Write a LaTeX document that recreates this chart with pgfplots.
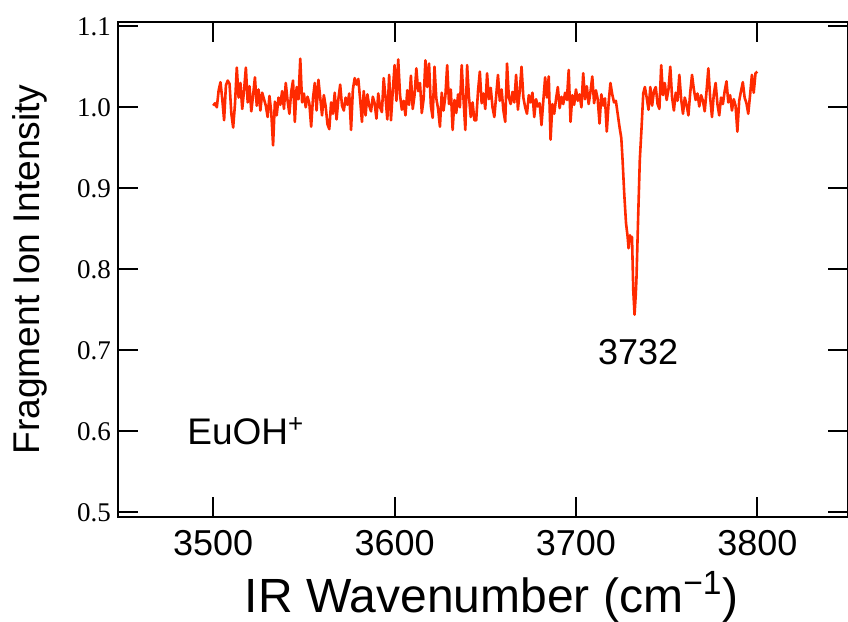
\documentclass[border=0pt]{standalone}
\usepackage{fontspec}
\setmainfont{Liberation Sans}
\newfontfamily\timesfont{Liberation Serif}
\usepackage{pgfplots}
\pgfplotsset{compat=1.18}
\definecolor{specred}{HTML}{FF2A00}

\pgfplotstableread{
x y
3500 1.002
3501 1.005
3502 1.000
3503 1.021
3504 1.031
3505 1.010
3506 0.984
3507 1.027
3508 1.033
3509 1.029
3510 0.992
3511 0.975
3512 1.004
3513 1.049
3514 1.012
3515 1.030
3516 0.998
3517 1.021
3518 1.049
3519 1.006
3520 1.026
3521 0.995
3522 1.015
3523 1.037
3524 1.002
3525 1.022
3526 0.996
3527 1.018
3528 1.010
3529 1.002
3530 0.988
3531 1.014
3532 0.994
3533 0.953
3534 1.007
3535 0.990
3536 1.012
3537 1.003
3538 1.020
3539 0.998
3540 1.030
3541 1.008
3542 0.992
3543 1.019
3544 1.033
3545 0.982
3546 1.025
3547 1.010
3548 1.060
3549 1.006
3550 1.017
3551 1.000
3552 1.013
3553 1.005
3554 0.976
3555 1.011
3556 1.030
3557 0.996
3558 1.034
3559 1.012
3560 0.990
3561 1.015
3562 1.001
3563 0.979
3564 0.973
3565 1.006
3566 0.992
3567 1.018
3568 0.985
3569 1.010
3570 1.028
3571 1.002
3572 0.996
3573 1.012
3574 1.003
3575 1.017
3576 0.972
3577 1.022
3578 1.036
3579 1.028
3580 1.035
3581 1.010
3582 0.982
3583 1.020
3584 0.990
3585 1.016
3586 1.002
3587 0.995
3588 1.013
3589 1.005
3590 0.986
3591 1.017
3592 1.000
3593 0.994
3594 1.036
3595 1.012
3596 0.985
3597 1.040
3598 0.984
3599 1.020
3600 1.052
3601 1.008
3602 1.059
3603 1.015
3604 0.997
3605 1.008
3606 0.990
3607 1.021
3608 1.003
3609 1.039
3610 0.998
3611 1.015
3612 1.048
3613 1.020
3614 1.030
3615 0.993
3616 1.010
3617 1.058
3618 1.025
3619 1.054
3620 1.002
3621 0.987
3622 1.050
3623 1.011
3624 0.998
3625 0.976
3626 1.018
3627 0.996
3628 1.014
3629 1.052
3630 1.004
3631 1.022
3632 0.972
3633 1.009
3634 0.993
3635 1.016
3636 1.000
3637 1.052
3638 1.010
3639 0.972
3640 1.052
3641 1.013
3642 0.988
3643 1.006
3644 0.984
3645 0.984
3646 1.020
3647 1.044
3648 1.005
3649 1.017
3650 0.998
3651 1.042
3652 1.010
3653 1.024
3654 1.000
3655 0.988
3656 1.014
3657 1.040
3658 1.008
3659 1.022
3660 0.996
3661 0.982
3662 1.054
3663 1.012
3664 1.004
3665 1.019
3666 1.006
3667 1.040
3668 0.997
3669 1.020
3670 1.050
3671 1.012
3672 1.000
3673 0.992
3674 1.015
3675 1.006
3676 1.018
3677 0.988
3678 1.010
3679 1.001
3680 1.005
3681 0.978
3682 1.008
3683 1.037
3684 1.012
3685 1.038
3686 0.960
3687 1.004
3688 0.992
3689 1.010
3690 1.025
3691 0.999
3692 1.013
3693 1.004
3694 1.018
3695 1.009
3696 1.046
3697 0.982
3698 1.015
3699 1.003
3700 1.022
3701 1.008
3702 1.016
3703 1.000
3704 1.042
3705 1.010
3706 1.026
3707 1.004
3708 1.019
3709 1.038
3710 1.005
3711 1.021
3712 1.010
3713 0.980
3714 1.016
3715 1.002
3716 1.011
3717 0.970
3718 1.005
3719 1.030
3720 1.016
3721 1.006
3722 1.008
3723 0.992
3724 0.976
3725 0.962
3725.7 0.935
3726.6 0.894
3727.6 0.857
3728.5 0.840
3729 0.826
3729.8 0.842
3730.3 0.835
3730.9 0.840
3731.6 0.774
3732.3 0.744
3733 0.770
3733.4 0.791
3734.3 0.865
3735.2 0.935
3736.2 0.976
3737.1 1.017
3738 1.025
3739 1.012
3740 0.997
3741 1.025
3742 1.002
3743 1.020
3744 1.025
3745 1.004
3746 0.998
3747 1.052
3748 1.015
3749 1.030
3750 1.009
3751 1.022
3752 1.050
3753 1.012
3754 0.996
3755 1.018
3756 1.008
3757 1.040
3758 1.010
3759 0.992
3760 1.012
3761 1.003
3762 0.990
3763 1.018
3764 1.040
3765 1.022
3766 1.009
3767 1.017
3768 1.001
3769 1.015
3770 1.008
3771 0.995
3772 1.020
3773 1.048
3774 1.012
3775 0.988
3776 1.016
3777 1.030
3778 1.004
3779 0.990
3780 1.012
3781 1.004
3782 1.020
3783 1.032
3784 1.006
3785 1.015
3786 0.996
3787 1.010
3788 1.002
3789 0.970
3790 1.008
3791 1.020
3792 1.031
3793 1.012
3794 1.005
3795 0.992
3796 1.015
3797 1.040
3798 1.018
3799 1.042
3800 1.044
}\spectrum

\begin{document}
\begin{tikzpicture}
\begin{axis}[
    name=ax,
    scale only axis,
    width=365pt, height=247.5pt,
    xmin=3447.5, xmax=3850, ymin=0.4942, ymax=1.1053,
    xtick={3500,3600,3700,3800},
    ytick={0.5,0.6,0.7,0.8,0.9,1.0,1.1},
    tick align=inside,
    major tick length=10pt,
    every tick/.style={black, line width=1pt},
    axis line style={line width=1pt},
    /pgf/number format/assume math mode=true,
    xticklabel style={font=\fontsize{18}{18}\selectfont,
      /pgf/number format/1000 sep={}, yshift=-3pt},
    yticklabel style={font=\timesfont\fontsize{13.5}{13.5}\selectfont,
      /pgf/number format/.cd, fixed, fixed zerofill, precision=1},
    xlabel={IR Wavenumber (cm\textsuperscript{−1})},
    ylabel={Fragment Ion Intensity},
    xlabel style={font=\fontsize{24}{24}\selectfont,
      at={(axis description cs:0.512,-0.161)}, anchor=center},
    ylabel style={font=\fontsize{18.6}{18.6}\selectfont,
      at={(axis description cs:-0.121,0.5)}, anchor=center},
  ]
\addplot[specred, line width=1.3pt, line join=round] table[x=x, y=y] {\spectrum};
\node[font=\fontsize{18}{18}\selectfont] at (axis cs:3734.3,0.698) {3732};
\node[font=\fontsize{18.5}{18.5}\selectfont] at (axis cs:3518,0.600) {EuOH\textsuperscript{+}};
\end{axis}
\pgfresetboundingbox
\path[use as bounding box] ([shift={(-59pt,-52pt)}]ax.south west) rectangle ([shift={(0pt,11pt)}]ax.north east);
\end{tikzpicture}
\end{document}
